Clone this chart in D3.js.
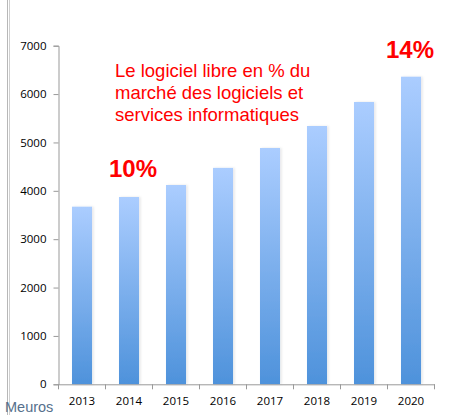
<!DOCTYPE html>
<html>
<head>
<meta charset="utf-8">
<script src="https://cdn.jsdelivr.net/npm/d3@7"></script>
<style>
html,body{margin:0;padding:0;background:#fff;}
svg{display:block;}
</style>
</head>
<body>
<script>
const years = ["2013","2014","2015","2016","2017","2018","2019","2020"];
const values = [3672, 3872, 4120, 4474, 4885, 5340, 5836, 6359];
const yTicks = [0,1000,2000,3000,4000,5000,6000,7000];
const noteLines = ["Le logiciel libre en % du","marché des logiciels et","services informatiques"];
const shareLabels = [{year:"2014", text:"10%"},{year:"2020", text:"14%"}];
const unitLabel = "Meuros";

const W = 450, H = 415;
const svg = d3.select("body").append("svg").attr("width", W).attr("height", H);

// left frame lines
svg.append("line").attr("x1",7.5).attr("x2",7.5).attr("y1",0).attr("y2",H).attr("stroke","#b8b8b8").attr("stroke-width",1);
svg.append("line").attr("x1",9.5).attr("x2",9.5).attr("y1",0).attr("y2",H).attr("stroke","#d0d0d0").attr("stroke-width",1);

const x0 = 58.5, x1 = 434.5, yBase = 384.3, yTop = 45.7;
const x = d3.scaleBand().domain(years).range([x0,x1]).paddingInner(0.574).paddingOuter(0.287);
const y = d3.scaleLinear().domain([0,7000]).range([yBase,yTop]);

const defs = svg.append("defs");
const grad = defs.append("linearGradient").attr("id","barGrad").attr("x1",0).attr("y1",0).attr("x2",0).attr("y2",1);
grad.append("stop").attr("offset","0%").attr("stop-color","#abcdff");
grad.append("stop").attr("offset","100%").attr("stop-color","#4e92db");
const sh = defs.append("filter").attr("id","shadow").attr("x","-20%").attr("y","-5%").attr("width","150%").attr("height","110%");
sh.append("feDropShadow").attr("dx",1.5).attr("dy",0).attr("stdDeviation",1.2).attr("flood-color","#000").attr("flood-opacity",0.1);

// bars
svg.append("g").selectAll("rect").data(years).join("rect")
  .attr("x", d => x(d))
  .attr("y", (d,i) => y(values[i]))
  .attr("width", x.bandwidth())
  .attr("height", (d,i) => yBase - y(values[i]))
  .attr("fill","url(#barGrad)")
  .attr("filter","url(#shadow)");

const axisFont = "'Open Sans', 'DejaVu Sans', sans-serif";
// y axis
const yAxis = svg.append("g").attr("transform",`translate(${x0},0)`)
  .call(d3.axisLeft(y).tickValues(yTicks).tickSize(5).tickPadding(7).tickFormat(d3.format("d")));
yAxis.select(".domain").attr("stroke","#999");
yAxis.selectAll(".tick line").attr("stroke","#999");
yAxis.selectAll("text").attr("font-family",axisFont).attr("font-size","11.5px").attr("fill","#000");

// x axis
const xAxis = svg.append("g").attr("transform",`translate(0,${yBase})`)
  .call(d3.axisBottom(x).tickSize(0).tickPadding(13));
xAxis.select(".domain").attr("stroke","#999");
xAxis.selectAll("text").attr("font-family",axisFont).attr("font-size","11.5px").attr("fill","#000");
// boundary ticks between categories
const step = x.step();
svg.append("g").selectAll("line").data(d3.range(years.length+1)).join("line")
  .attr("x1", i => x0 + i*step).attr("x2", i => x0 + i*step)
  .attr("y1", yBase).attr("y2", yBase+5).attr("stroke","#999");

// note text
const note = svg.append("text").attr("x",115).attr("y",77)
  .attr("font-family","'Liberation Sans', Arial, sans-serif").attr("font-size","18.5px").attr("fill","#ff0000");
note.selectAll("tspan").data(noteLines).join("tspan")
  .attr("x",115).attr("dy",(d,i)=> i===0 ? 0 : 22).text(d=>d);

// share labels
const offs = {"2014": 4, "2020": -1};
const shareY = {"2014": 176.7, "2020": 58.3};
svg.append("g").selectAll("text").data(shareLabels).join("text")
  .attr("x", d => x(d.year) + x.bandwidth()/2 + offs[d.year])
  .attr("y", d => shareY[d.year])
  .attr("text-anchor","middle")
  .attr("font-family","'Liberation Sans', Arial, sans-serif").attr("font-weight","bold")
  .attr("font-size","24px").attr("fill","#ff0000").text(d=>d.text);

// unit label
svg.append("text").attr("x",5).attr("y",411.5)
  .attr("font-family","'Liberation Sans', Arial, sans-serif").attr("font-size","14.5px")
  .attr("fill","#56708c").text(unitLabel);
</script>
</body>
</html>
